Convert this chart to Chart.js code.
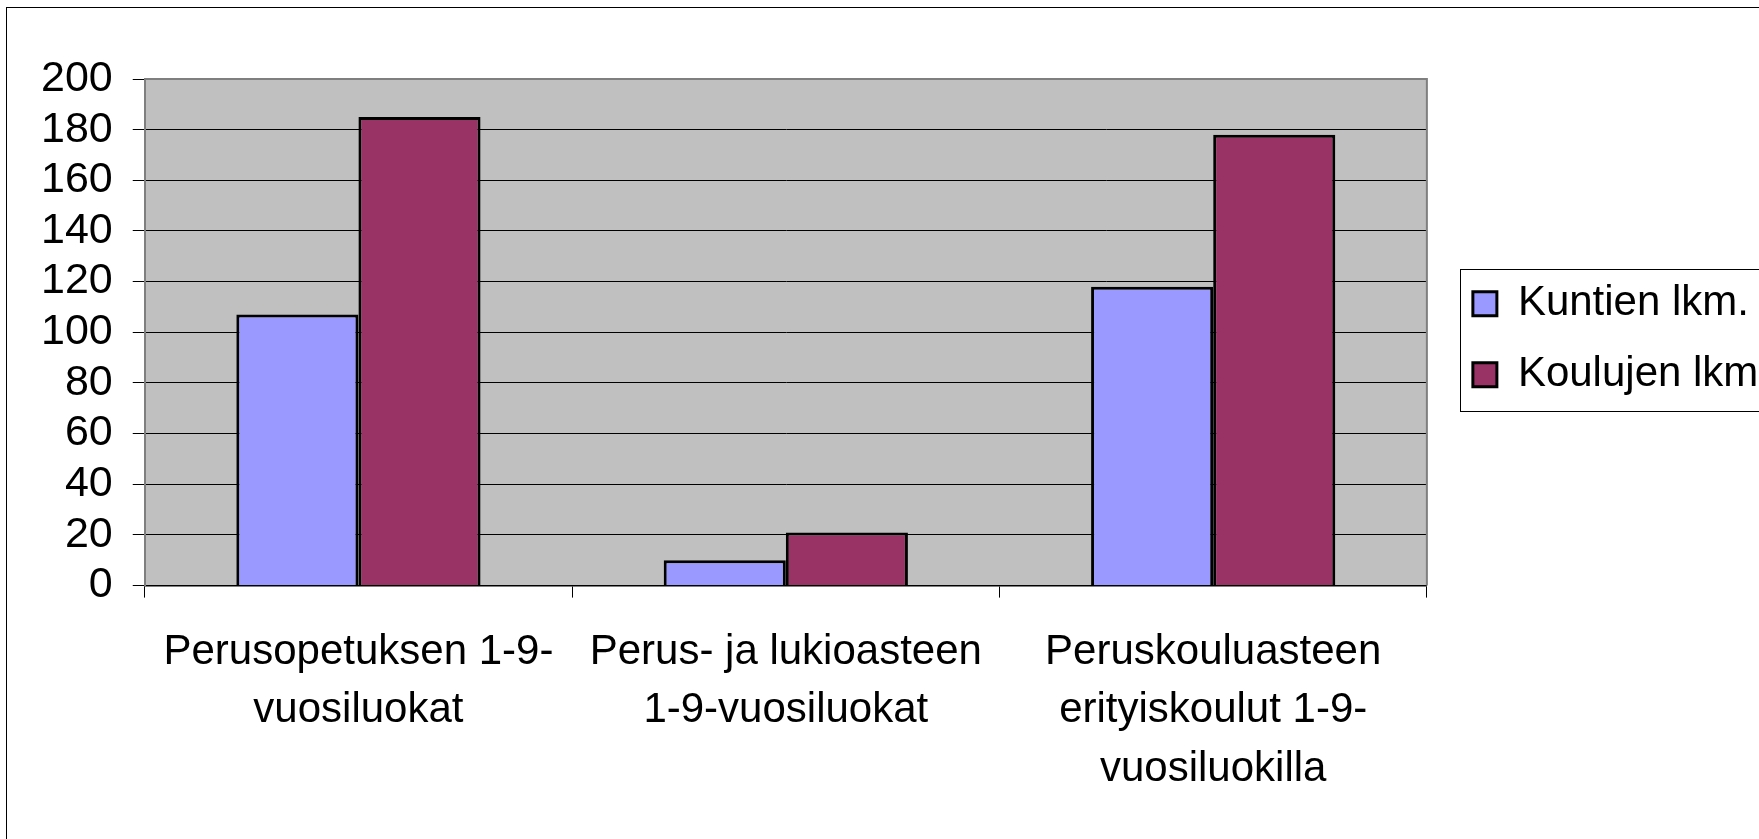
<!DOCTYPE html>
<html>
<head>
<meta charset="utf-8">
<script src="https://cdn.jsdelivr.net/npm/chart.js@4.4.1/dist/chart.umd.min.js"></script>
<style>
  html, body { margin: 0; padding: 0; background: #fff; overflow: hidden; }
  #wrap { width: 1790px; height: 839px; }
</style>
</head>
<body>
<div id="wrap"><canvas id="kouluChart" width="1790" height="839"></canvas></div>
<script>
// Kategoriat ja arvot
const categories = [
    ['Perusopetuksen 1-9-', 'vuosiluokat'],
    ['Perus- ja lukioasteen', '1-9-vuosiluokat'],
    ['Peruskouluasteen', 'erityiskoulut 1-9-', 'vuosiluokilla']
];
const kuntienLkm = [107, 10, 118];
const koulujenLkm = [185, 21, 178];
const yMin = 0;
const yMax = 200;
const yStep = 20;

const fontFamily = "'Liberation Sans', Arial, sans-serif";

// legendaa siirretään hieman oikealle ja alas kuvaala-alueesta
const legendShift = {
    id: 'legendShift',
    afterLayout(chart) {
        const lg = chart.legend;
        lg.left += 17; lg.right += 17;
        lg.top += 7; lg.bottom += 7;
    }
};

// harmaa kuvaala-alue, sen reunus, legendan kehys ja ulkokehys
const frames = {
    id: 'frames',
    beforeDraw(chart) {
        const { ctx, chartArea: a } = chart;
        ctx.save();
        ctx.fillStyle = '#c0c0c0';
        ctx.fillRect(a.left, a.top, a.right - a.left, a.bottom - a.top);
        ctx.restore();
    },
    afterDraw(chart) {
        const { ctx, chartArea: a } = chart;
        ctx.save();
        ctx.strokeStyle = '#7f7f7f';
        ctx.lineWidth = 2;
        ctx.beginPath();
        ctx.moveTo(a.left, a.top);
        ctx.lineTo(a.right, a.top);
        ctx.lineTo(a.right, a.bottom);
        ctx.stroke();

        // ulkokehys
        ctx.strokeStyle = '#000';
        ctx.lineWidth = 1;
        ctx.strokeRect(6.5, 7.5, 2000, 2000);

        // legendan kehys
        const hb = chart.legend.legendHitBoxes;
        if (hb && hb.length) {
            const first = hb[0];
            const last = hb[hb.length - 1];
            const x = Math.round(first.left - 13) + 0.5;
            const y = Math.round(first.top - 14) + 0.5;
            const bottom = Math.round(last.top + last.height + 15) + 0.5;
            ctx.strokeRect(x, y, 2000, bottom - y);
        }
        ctx.restore();
    }
};

const ctx = document.getElementById('kouluChart').getContext('2d');
const kouluChart = new Chart(ctx, {
    type: 'bar',
    data: {
        labels: categories,
        datasets: [{
            label: 'Kuntien lkm.',
            data: kuntienLkm,
            backgroundColor: '#9999ff',
            borderColor: '#000',
            borderWidth: 3
        }, {
            label: 'Koulujen lkm.',
            data: koulujenLkm,
            backgroundColor: '#993366',
            borderColor: '#000',
            borderWidth: 3
        }]
    },
    options: {
        responsive: false,
        animation: false,
        devicePixelRatio: 1,
        layout: {
            padding: { left: 21, top: 79, right: 27, bottom: 15 }
        },
        datasets: {
            bar: {
                categoryPercentage: 2 / 3.5,
                barPercentage: 1.0
            }
        },
        scales: {
            x: {
                grid: {
                    display: true,
                    drawOnChartArea: false,
                    drawTicks: true,
                    tickLength: 12,
                    color: '#000'
                },
                border: { display: true, color: '#000', width: 1.5 },
                ticks: {
                    color: '#000',
                    padding: 25,
                    maxRotation: 0,
                    autoSkip: false,
                    font: { family: fontFamily, size: 42, lineHeight: 1.4 }
                }
            },
            y: {
                min: yMin,
                max: yMax,
                grid: {
                    color: '#000',
                    lineWidth: 1,
                    tickLength: 12
                },
                border: { display: true, color: '#7f7f7f', width: 2 },
                ticks: {
                    stepSize: yStep,
                    autoSkip: false,
                    color: '#000',
                    padding: 20,
                    font: { family: fontFamily, size: 43 }
                }
            }
        },
        plugins: {
            legend: {
                position: 'right',
                fullSize: false,
                labels: {
                    color: '#000',
                    boxWidth: 24,
                    boxHeight: 24,
                    padding: 29,
                    font: { family: fontFamily, size: 42 }
                }
            },
            tooltip: { enabled: false }
        }
    },
    plugins: [legendShift, frames]
});
</script>
</body>
</html>
